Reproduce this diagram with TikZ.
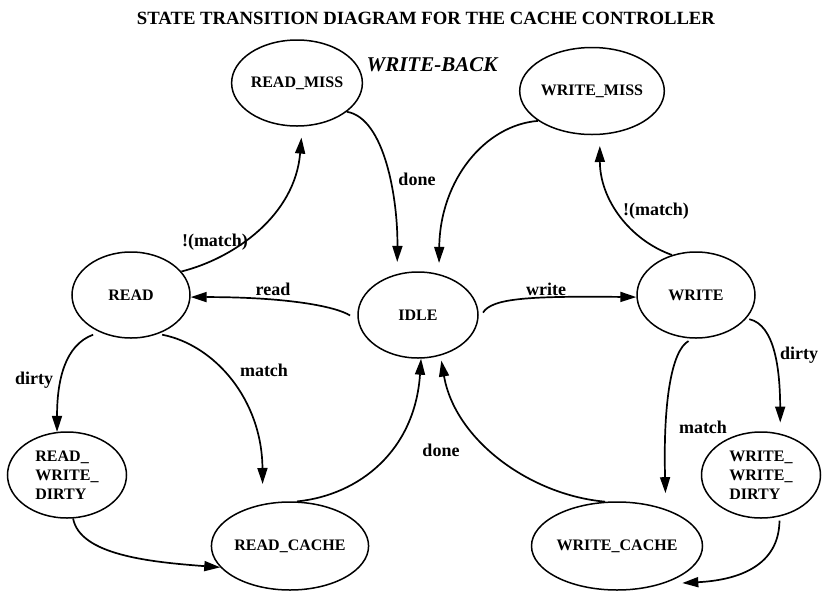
\documentclass[tikz,border=0pt]{standalone}
\usepackage{fontspec}
\setmainfont{Liberation Serif}
\usetikzlibrary{shapes.geometric,arrows.meta}

\begin{document}
\begin{tikzpicture}[x=1pt,y=-1pt,
  state/.style={ellipse, draw, line width=1.5pt, inner sep=0pt,
    font=\fontsize{16}{19}\selectfont\bfseries, align=left},
  trans/.style={line width=1.7pt, -{Triangle[length=16pt,width=10pt]}},
  lbl/.style={font=\fontsize{18}{20}\selectfont\bfseries, inner sep=0pt}
]
\useasboundingbox (0,0) rectangle (823,590);
\fill[white] (0,0) rectangle (823,590);

% headings
\node[font=\fontsize{18.7}{21}\selectfont\bfseries] (title) at (426,18)
  {STATE TRANSITION DIAGRAM FOR THE CACHE CONTROLLER};
\node[font=\fontsize{21}{24}\selectfont\bfseries\itshape] (policy) at (432,65) {WRITE-BACK};

% states
\node[state, minimum width=120pt, minimum height=86pt] (rm)   at (297,83)  {READ\_MISS};
\node[state, minimum width=121pt, minimum height=87pt] (wm)   at (592,91)  {WRITE\_MISS};
\node[state, minimum width=118pt, minimum height=86pt] (rd)   at (131,295) {READ};
\node[state, minimum width=120pt, minimum height=86pt] (idle) at (418,315) {IDLE};
\node[state, minimum width=118pt, minimum height=86pt] (wr)   at (696,295) {WRITE};
\node[state, minimum width=119pt, minimum height=86pt] (rwd)  at (67,475)  {READ\_\\WRITE\_\\DIRTY};
\node[state, minimum width=119pt, minimum height=86pt] (wwd)  at (761,475) {WRITE\_\\WRITE\_\\DIRTY};
\node[state, minimum width=134pt, minimum height=88pt] (rc)   at (290,546) {READ\_CACHE};
\node[state, minimum width=151pt, minimum height=88pt] (wc)   at (617,546) {WRITE\_CACHE};

% transitions
\draw[trans, shorten >=12pt] (rm.-30) .. controls (385,118) and (398,200) .. (idle.117.7);
\draw[trans, shorten >=11pt] (wm.209) .. controls (485,125) and (440,180) .. (idle.63.7);
\draw[trans, shorten >=11pt] (rd.25.7) .. controls (235,258) and (295,215) .. (rm.-83.4);
\draw[trans, shorten <=9pt] (idle.-175) .. controls (335,306) and (285,297) .. (rd.-2);
\draw[trans, shorten <=9pt] (idle.-5) .. controls (492,298) and (530,296) .. (wr.182);
\draw[trans, shorten <=7pt] (rd.-130.6) .. controls (65,345) and (57,380) .. (rwd.103.3);
\draw[trans, shorten <=4pt, shorten >=20pt] (rd.-55.4) .. controls (215,345) and (262,400) .. (rc.123.8);
\draw[trans] (rwd.-82.4) .. controls (80,555) and (150,562) .. (rc.197.5);
\draw[trans] (rc.81) .. controls (360,495) and (415,450) .. (idle.-86);
\draw[trans, shorten >=5pt] (wc.105.5) .. controls (530,495) and (455,440) .. (idle.-61.2);
\draw[trans, shorten >=11pt] (wr.121.4) .. controls (630,240) and (600,200) .. (wm.-80.8);
\draw[trans, shorten <=3pt, shorten >=11pt] (wr.-25.7) .. controls (775,325) and (780,370) .. (wwd.65);
\draw[trans, shorten <=5pt, shorten >=16pt] (wr.-94) .. controls (672,350) and (663,400) .. (wc.37);
\draw[trans, shorten <=4pt, shorten >=20pt] (wwd.-66.3) .. controls (779,565) and (740,580) .. (wc.-40);

% transition labels
\node[lbl] (l-rmiss)  at (215,242) {!(match)};
\node[lbl] (l-done1)  at (417,179) {done};
\node[lbl] (l-read)   at (273,289) {read};
\node[lbl] (l-write)  at (546,289) {write};
\node[lbl] (l-wmiss)  at (656,211) {!(match)};
\node[lbl] (l-rdirty) at (34,380)  {dirty};
\node[lbl] (l-rmatch) at (264,370) {match};
\node[lbl] (l-wdirty) at (799,355) {dirty};
\node[lbl] (l-wmatch) at (703,427) {match};
\node[lbl] (l-done2)  at (441,450) {done};
\end{tikzpicture}
\end{document}
